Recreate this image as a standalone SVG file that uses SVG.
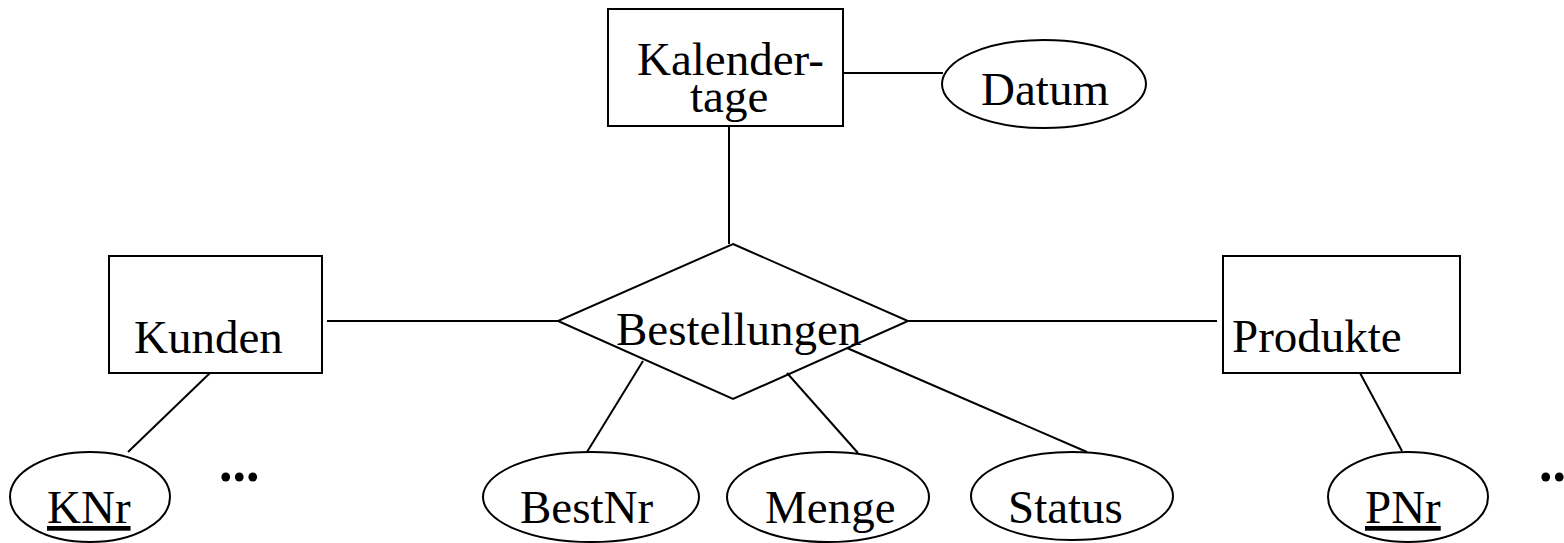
<svg xmlns="http://www.w3.org/2000/svg" width="1564" height="543" viewBox="0 0 1564 543">
<style>
.s{fill:#fff;stroke:#000;stroke-width:2}
.c line{stroke:#000;stroke-width:2}
text{font-family:"Liberation Serif","Times New Roman",serif;font-size:47px;fill:#000}
.u{text-decoration:underline}
.d{font-weight:bold;font-size:54px}
</style>
<rect width="1564" height="543" fill="#fff"/>
<g id="connectors" class="c">
<line x1="843" y1="73" x2="943" y2="73"/>
<line x1="729" y1="126" x2="729" y2="244"/>
<line x1="327" y1="321" x2="558" y2="321"/>
<line x1="908" y1="321" x2="1217" y2="321"/>
<line x1="210" y1="373" x2="128" y2="452"/>
<line x1="1360" y1="373" x2="1402" y2="451"/>
<line x1="643" y1="361" x2="587" y2="452"/>
<line x1="787" y1="373" x2="858" y2="453"/>
<line x1="847" y1="348" x2="1087" y2="452"/>
</g>
<g id="kalendertage">
<rect class="s" x="608" y="9" width="235" height="117"/>
<text x="637" y="75">Kalender-</text>
<text x="690" y="112">tage</text>
</g>
<g id="datum">
<ellipse class="s" cx="1044" cy="84" rx="102" ry="44"/>
<text x="1045" y="105" text-anchor="middle">Datum</text>
</g>
<g id="bestellungen">
<polygon class="s" points="733,244 908,321 733,399 558,321" style="fill:none"/>
<text x="616" y="345">Bestellungen</text>
</g>
<g id="kunden">
<rect class="s" x="109" y="256" width="213" height="117"/>
<text x="134" y="353">Kunden</text>
</g>
<g id="produkte">
<rect class="s" x="1223" y="256" width="237" height="117"/>
<text x="1232" y="352">Produkte</text>
</g>
<g id="knr">
<ellipse class="s" cx="90" cy="497" rx="80" ry="45"/>
<text class="u" x="47" y="523">KNr</text>
</g>
<g id="dots1">
<text class="d" x="219" y="481">...</text>
</g>
<g id="bestnr">
<ellipse class="s" cx="591" cy="497" rx="108" ry="45"/>
<text x="520" y="523">BestNr</text>
</g>
<g id="menge">
<ellipse class="s" cx="828" cy="497" rx="101" ry="45"/>
<text x="765" y="523">Menge</text>
</g>
<g id="status">
<ellipse class="s" cx="1072" cy="496" rx="101" ry="44"/>
<text x="1008" y="523">Status</text>
</g>
<g id="pnr">
<ellipse class="s" cx="1408" cy="497" rx="80" ry="45"/>
<text class="u" x="1365" y="523">PNr</text>
</g>
<g id="dots2">
<text class="d" x="1539" y="481">...</text>
</g>
</svg>
